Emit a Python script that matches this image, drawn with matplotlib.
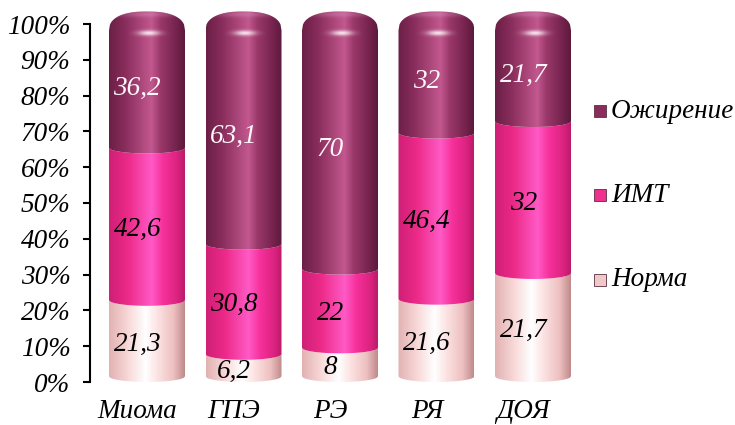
import numpy as np
import matplotlib
matplotlib.use('Agg')
import matplotlib.pyplot as plt
from matplotlib.colors import LinearSegmentedColormap
from matplotlib.path import Path
from matplotlib.patches import Rectangle

plt.rcParams['font.family'] = ['Liberation Serif', 'DejaVu Serif']
plt.rcParams['font.style'] = 'italic'

categories = ['Миома', 'ГПЭ', 'РЭ', 'РЯ', 'ДОЯ']
series_names = ['Норма', 'ИМТ', 'Ожирение']
norma = [21.3, 6.2, 8, 21.6, 21.7]
imt = [42.6, 30.8, 22, 46.4, 32]
obesity = [36.2, 63.1, 70, 32, 21.7]

# colour stops across the cylinder face (left edge -> right edge)
shades = {
    'Норма': [(0.0, '#e2b2b2'), (0.25, '#f8d8d8'), (0.48, '#ffffff'),
              (0.62, '#fde6e6'), (0.85, '#eec0c0'), (1.0, '#bf8a8a')],
    'ИМТ': [(0.0, '#cf1f76'), (0.25, '#ec2a88'), (0.56, '#ff5ac6'),
            (0.72, '#f6309a'), (0.9, '#dc2380'), (1.0, '#bb1a6a')],
    'Ожирение': [(0.0, '#6a1f46'), (0.22, '#8a2e5d'), (0.56, '#c2588f'),
                 (0.68, '#9a386a'), (0.88, '#76244f'), (1.0, '#5c1a3b')],
}
legend_colors = {'Норма': '#f0c8c8', 'ИМТ': '#f0308f', 'Ожирение': '#8a2d5c'}
label_colors = {'Норма': 'black', 'ИМТ': 'black', 'Ожирение': '#fff6fa'}
FS = 19.5

W, H = 735, 425
fig = plt.figure(figsize=(W / 100, H / 100), dpi=100)

# axes placed in pixel terms: 0% at y=382, 100% at y=24, axis line at x=90
px_per_unit = (382 - 24) / 100
ytop = 104.5
ax_bottom = (H - 382) / H
ax_height = (382 - (24 - 4.5 * px_per_unit)) / H
ax_left = 90 / W
ax_right_px = 585
ax = fig.add_axes([ax_left, ax_bottom, (ax_right_px - 90) / W, ax_height])

step_px, first_px = 96.5, 147
xlim = ((90 - first_px) / step_px, (ax_right_px - first_px) / step_px)
bar_w = 76 / step_px
ell = 1.6          # half-height of the elliptical rims, in %
shift = -0.1       # labels sit a little left of the bar axis

data = np.array([norma, imt, obesity], dtype=float)
pct = data / data.sum(axis=0) * 100.0


def seg_path(c, y0, y1, cap):
    u = np.linspace(-1, 1, 81)
    xs = c + u * bar_w / 2
    bottom = y0 + ell - ell * np.sqrt(1 - u ** 2)
    if cap:
        top = y1 - 1.8 + 5.3 * (1 - np.abs(u) ** 2.4) ** (1 / 2.4)
    else:
        top = y1 + ell - ell * np.sqrt(1 - u ** 2)
    verts = list(zip(xs, bottom)) + list(zip(xs[::-1], top[::-1]))
    verts.append(verts[0])
    codes = [Path.MOVETO] + [Path.LINETO] * (len(verts) - 2) + [Path.CLOSEPOLY]
    return Path(verts, codes)


x = np.arange(len(categories))
for i, c in enumerate(x):
    base = 0.0
    for k, name in enumerate(series_names):
        h = pct[k, i]
        cap = k == len(series_names) - 1
        path = seg_path(c, base, base + h, cap)
        cmap = LinearSegmentedColormap.from_list(name, shades[name])
        grad = cmap(np.linspace(0, 1, 256))[None, :, :]
        im = ax.imshow(grad, extent=(c - bar_w / 2, c + bar_w / 2, base - 1, base + h + 6),
                       aspect='auto', interpolation='bilinear', origin='lower', zorder=2)
        im.set_clip_path(path, ax.transData)
        if cap:
            # soft specular spot on the rounded top
            gx = np.linspace(-1, 1, 120)
            gy = np.linspace(-1, 1, 60)
            GX, GY = np.meshgrid(gx, gy)
            glow = np.exp(-((GX / 0.28) ** 2 + (GY / 0.33) ** 2))
            spot = np.ones((60, 120, 4))
            spot[..., 3] = glow * 0.85
            im2 = ax.imshow(spot, extent=(c - bar_w / 2 + 0.02, c + bar_w / 2 + 0.02, 95.3, 99.5),
                            aspect='auto', interpolation='bilinear', origin='lower', zorder=3)
            im2.set_clip_path(path, ax.transData)
            rim = np.ones((60, 120, 4))
            rim[..., :3] = [0.85, 0.55, 0.72]
            rim[..., 3] = np.exp(-((GX / 0.75) ** 2 + ((GY - 0.4) / 0.35) ** 2)) * 0.45
            im3 = ax.imshow(rim, extent=(c - bar_w / 2, c + bar_w / 2, 99.5, 104),
                            aspect='auto', interpolation='bilinear', origin='lower', zorder=3)
            im3.set_clip_path(path, ax.transData)
        label = f'{data[k, i]:g}'.replace('.', ',')
        ax.text(c + shift, base + h / 2, label, ha='center', va='center',
                fontsize=FS, color=label_colors[name], zorder=5)
        base += h

ax.set_xlim(*xlim)
ax.set_ylim(0, ytop)
ax.set_yticks(np.arange(0, 101, 10))
ax.set_yticklabels([f'{v}%' for v in range(0, 101, 10)], fontsize=FS)
ax.set_xticks(x + shift)
ax.set_xticklabels(categories, fontsize=FS)
ax.tick_params(axis='y', direction='out', length=5, width=1.5, pad=9)
ax.tick_params(axis='x', length=0, pad=12)
for side in ('top', 'right', 'bottom'):
    ax.spines[side].set_visible(False)
ax.spines['left'].set_bounds(0, 100)
ax.spines['left'].set_linewidth(1.5)
ax.patch.set_visible(False)

# legend, top entry is the top series
leg_y = [111, 195, 280]
for name, yy in zip(series_names[::-1], leg_y):
    fig.add_artist(Rectangle((594 / W, (H - yy - 6) / H), 12 / W, 12 / H,
                             transform=fig.transFigure, facecolor=legend_colors[name],
                             edgecolor='#5a3040', linewidth=0.6))
    fig.text(611 / W, (H - yy) / H, name, fontsize=FS, va='center', ha='left')

fig.savefig('out.png', dpi=100)
